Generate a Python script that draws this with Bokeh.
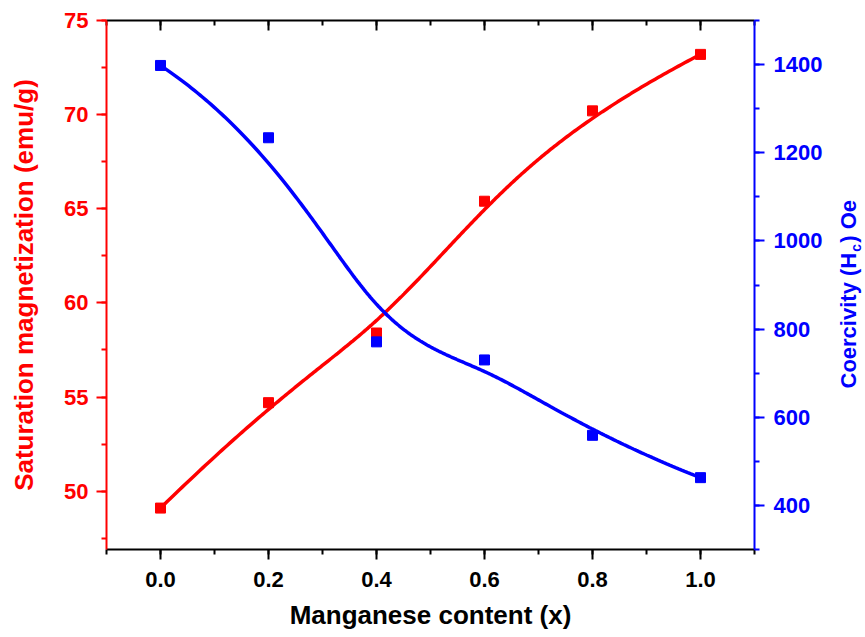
import numpy as np
from bokeh.plotting import figure
from bokeh.layouts import row
from bokeh.models import (Range1d, LinearAxis, SingleIntervalTicker, Label,
                          CustomJSTickFormatter, PrintfTickFormatter)
from bokeh.embed import file_html
from bokeh.resources import INLINE

# ---- data ----
mn_content = [0.0, 0.2, 0.4, 0.6, 0.8, 1.0]
saturation = [49.1, 54.7, 58.4, 65.4, 70.2, 73.2]
coercivity = [1398, 1234, 771, 730, 559, 463]

x_label = "Manganese content (x)"
left_label = "Saturation magnetization (emu/g)"
right_label_parts = ["Coercivity (H", "c", ") Oe"]

RED = "#ff0000"
BLUE = "#0000ff"
FONT = "Liberation Sans"

MAIN_W = 825
SIDE_W = 40
H = 637
TOP, BOTTOM = 20, 88


def bspline(xs, ys, n=300):
    """Clamped cubic B-spline using the data points as control points."""
    P = np.column_stack([xs, ys]).astype(float)
    k = 3
    m = len(P)
    knots = np.concatenate([np.zeros(k), np.arange(m - k + 1), np.full(k, m - k)]).astype(float)
    ts = np.linspace(0, m - k, n)
    out = []
    for t in ts:
        s = k
        while s < m - 1 and t >= knots[s + 1]:
            s += 1
        d = [P[j + s - k].copy() for j in range(k + 1)]
        for r in range(1, k + 1):
            for j in range(k, r - 1, -1):
                i = j + s - k
                den = knots[i + k + 1 - r] - knots[i]
                a = 0.0 if den == 0 else (t - knots[i]) / den
                d[j] = (1 - a) * d[j - 1] + a * d[j]
        out.append(d[k])
    out = np.array(out)
    return out[:, 0], out[:, 1]


p = figure(width=MAIN_W, height=H, output_backend="svg", toolbar_location=None,
           x_range=Range1d(-0.1, 1.1), y_range=Range1d(46.9, 75),
           min_border_left=106, min_border_right=MAIN_W - 754, min_border_top=TOP,
           min_border_bottom=BOTTOM, x_axis_location=None, y_axis_location=None)
p.outline_line_color = None
p.xgrid.visible = False
p.ygrid.visible = False
p.background_fill_color = "white"
p.border_fill_color = "white"
p.extra_y_ranges = {"hc": Range1d(300, 1500)}


def style(ax, color, title_size="26px"):
    ax.axis_line_color = color
    ax.axis_line_width = 2
    ax.major_tick_line_color = color
    ax.minor_tick_line_color = color
    ax.major_tick_line_width = 2
    ax.minor_tick_line_width = 2
    ax.major_tick_out = 10
    ax.major_tick_in = 0
    ax.minor_tick_out = 5
    ax.minor_tick_in = 0
    ax.major_label_text_color = color
    ax.major_label_text_font = FONT
    ax.major_label_text_font_style = "bold"
    ax.major_label_text_font_size = "22px"
    ax.axis_label_text_color = color
    ax.axis_label_text_font = FONT
    ax.axis_label_text_font_style = "bold"
    ax.axis_label_text_font_size = title_size


xb = LinearAxis(ticker=SingleIntervalTicker(interval=0.2, num_minor_ticks=2),
                formatter=PrintfTickFormatter(format="%.1f"),
                axis_label=x_label)
style(xb, "black")
xb.major_label_standoff = 12
xb.axis_label_standoff = 10
p.add_layout(xb, "below")

xt = LinearAxis(ticker=SingleIntervalTicker(interval=0.2, num_minor_ticks=2),
                formatter=CustomJSTickFormatter(code="return ''"))
style(xt, "black")
xt.major_tick_out = 0
xt.major_tick_in = 10
xt.minor_tick_out = 0
xt.minor_tick_in = 5
xt.major_label_text_font_size = "0px"
xt.major_label_standoff = 0
p.add_layout(xt, "above")

yl = LinearAxis(ticker=SingleIntervalTicker(interval=5, num_minor_ticks=2),
                axis_label=left_label)
style(yl, RED)
yl.major_label_standoff = 8
yl.axis_label_standoff = 22
p.add_layout(yl, "left")

yr = LinearAxis(y_range_name="hc",
                ticker=SingleIntervalTicker(interval=200, num_minor_ticks=2))
style(yr, BLUE)
yr.major_label_standoff = 9
p.add_layout(yr, "right")

# curves and points
sx, sy = bspline(mn_content, saturation)
p.line(sx, sy, line_color=RED, line_width=3.5)
p.scatter(mn_content, saturation, marker="square", size=10, color=RED)

cx, cy = bspline(mn_content, coercivity)
p.line(cx, cy, line_color=BLUE, line_width=3.5, y_range_name="hc")
p.scatter(mn_content, coercivity, marker="square", size=10, color=BLUE,
          y_range_name="hc")

# side strip carrying the right-axis title (with subscript);
# its frame is aligned with the main frame, data units = pixels from bottom
side = figure(width=SIDE_W, height=H, output_backend="svg", toolbar_location=None,
              x_range=Range1d(0, SIDE_W), y_range=Range1d(BOTTOM, H - TOP),
              min_border_left=0, min_border_right=0,
              min_border_top=TOP, min_border_bottom=BOTTOM,
              x_axis_location=None, y_axis_location=None)
side.outline_line_color = None
side.xgrid.visible = False
side.ygrid.visible = False
side.border_fill_color = "white"

x0 = 848 - MAIN_W
y0 = H - 388
w_main = 22 * 6.168
common = dict(angle=np.pi / 2, text_align="left", text_baseline="middle",
              text_color=BLUE, text_font=FONT, text_font_style="bold")
side.add_layout(Label(x=x0, y=y0, text=right_label_parts[0],
                      text_font_size="22px", **common))
side.add_layout(Label(x=x0 + 7, y=y0 + w_main + 1, text=right_label_parts[1],
                      text_font_size="14px", **common))
side.add_layout(Label(x=x0, y=y0 + w_main + 10, text=right_label_parts[2],
                      text_font_size="22px", **common))

layout = row(p, side, spacing=0)
open("out.html", "w").write(file_html(layout, INLINE))
